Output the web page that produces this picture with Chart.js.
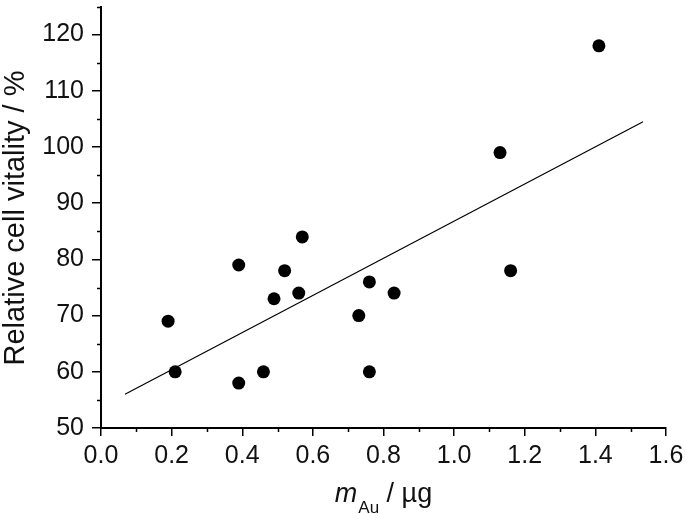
<!DOCTYPE html>
<html>
<head>
<meta charset="utf-8">
<script src="https://cdn.jsdelivr.net/npm/chart.js@4.4.1/dist/chart.umd.min.js"></script>
<style>
  body { margin: 0; background: #fff; }
</style>
</head>
<body>
<canvas id="myGraphic" width="685" height="514"></canvas>
<script>
// datos
const massAu = [0.19, 0.21, 0.39, 0.39, 0.46, 0.49, 0.52, 0.56, 0.57, 0.73, 0.76, 0.76, 0.83, 1.13, 1.16, 1.41];
const vitality = [69, 60, 79, 58, 60, 73, 78, 74, 84, 70, 76, 60, 74, 99, 78, 118];

// recta de ajuste
const fitX = [0.068, 1.535];
const fitY = [56.0, 104.5];

const xTicks = [0, 0.2, 0.4, 0.6, 0.8, 1.0, 1.2, 1.4, 1.6];
const xTickLabels = ['0.0', '0.2', '0.4', '0.6', '0.8', '1.0', '1.2', '1.4', '1.6'];
const xMinor = [0.1, 0.3, 0.5, 0.7, 0.9, 1.1, 1.3, 1.5];
const yTicks = [50, 60, 70, 80, 90, 100, 110, 120];
const yMinor = [55, 65, 75, 85, 95, 105, 115, 125];

const FONT = '"Liberation Sans", Arial, sans-serif';

// marcas menores y titulos de los ejes
const extras = {
    id: 'extras',
    afterDraw(chart) {
        const c = chart.ctx;
        const xs = chart.scales.x, ys = chart.scales.y;
        const area = chart.chartArea;
        c.save();
        c.strokeStyle = '#000';
        c.lineWidth = 1.5;
        c.beginPath();
        xMinor.forEach(v => {
            const px = Math.round(xs.getPixelForValue(v)) + 0.5;
            c.moveTo(px, area.bottom);
            c.lineTo(px, area.bottom + 4);
        });
        yMinor.forEach(v => {
            const py = Math.round(ys.getPixelForValue(v)) + 0.5;
            c.moveTo(area.left, py);
            c.lineTo(area.left - 4, py);
        });
        c.stroke();

        c.fillStyle = '#111';
        // titulo eje y
        c.save();
        c.translate(24, 218);
        c.rotate(-Math.PI / 2);
        c.font = '29px ' + FONT;
        c.textAlign = 'center';
        c.textBaseline = 'alphabetic';
        c.fillText('Relative cell vitality / %', 0, 0);
        c.restore();

        // titulo eje x: m_Au / µg
        const big = '27px ' + FONT, itBig = 'italic 27px ' + FONT, small = '17px ' + FONT;
        c.font = itBig; const w1 = c.measureText('m').width;
        c.font = small; const w2 = c.measureText('Au').width;
        c.font = big; const w3 = c.measureText(' / \u00b5g').width;
        let x0 = (area.left + area.right) / 2 - (w1 + 1 + w2 + w3) / 2;
        c.textAlign = 'left';
        c.font = itBig; c.fillText('m', x0, 502);
        x0 += w1 + 1;
        c.font = small; c.fillText('Au', x0, 513);
        x0 += w2;
        c.font = big; c.fillText(' / \u00b5g', x0, 502);
        c.restore();
    }
};

var myChart = new Chart('myGraphic', {
    type: 'scatter',
    data: {
        datasets: [{
            type: 'line',
            label: 'Ajuste',
            data: fitX.map((x, i) => ({ x: x, y: fitY[i] })),
            borderColor: '#000',
            borderWidth: 1.2,
            pointRadius: 0,
            fill: false
        }, {
            label: 'Datos',
            data: massAu.map((x, i) => ({ x: x, y: vitality[i] })),
            backgroundColor: '#000',
            borderWidth: 0,
            pointRadius: 6.5
        }]
    },
    options: {
        responsive: false,
        animation: false,
        layout: { padding: { top: 2, right: 19, left: 0, bottom: 0 } },
        plugins: {
            legend: { display: false },
            tooltip: { enabled: false }
        },
        scales: {
            x: {
                type: 'linear',
                min: 0,
                max: 1.6,
                afterBuildTicks: s => { s.ticks = xTicks.map(v => ({ value: v })); },
                afterFit: s => { s.height = 86; s.paddingLeft = 0; s.paddingRight = 0; },
                grid: { drawOnChartArea: false, drawTicks: true, tickLength: 8, color: '#000', lineWidth: 1.5 },
                border: { display: true, color: '#000', width: 2 },
                ticks: {
                    padding: 5,
                    color: '#111',
                    font: { size: 25, family: FONT },
                    maxRotation: 0,
                    autoSkip: false,
                    callback: (v, i) => xTickLabels[i]
                }
            },
            y: {
                type: 'linear',
                min: 50,
                max: 125,
                afterBuildTicks: s => { s.ticks = yTicks.map(v => ({ value: v })); },
                afterFit: s => { s.width = 101; s.paddingTop = 0; s.paddingBottom = 0; },
                grid: { drawOnChartArea: false, drawTicks: true, tickLength: 9, color: '#000', lineWidth: 1.5 },
                border: { display: true, color: '#000', width: 2 },
                ticks: {
                    padding: 8,
                    color: '#111',
                    font: { size: 25, family: FONT },
                    autoSkip: false,
                    callback: v => String(v)
                }
            }
        }
    },
    plugins: [extras]
});
</script>
</body>
</html>
